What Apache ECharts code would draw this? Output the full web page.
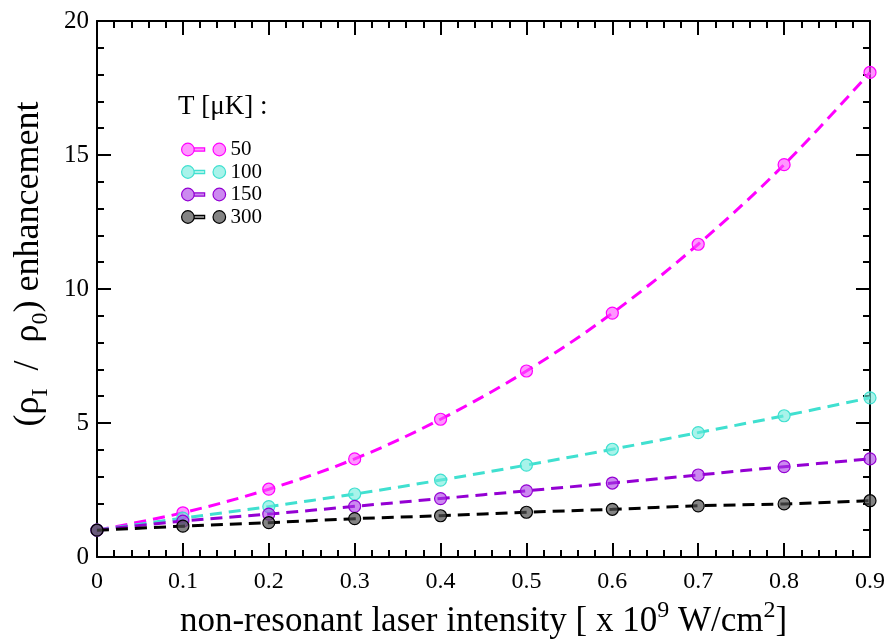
<!DOCTYPE html>
<html>
<head>
<meta charset="utf-8">
<script src="https://cdn.jsdelivr.net/npm/echarts@6/dist/echarts.min.js"></script>
<style>
  html, body { margin: 0; padding: 0; background: #fff; }
  #chart { width: 887px; height: 644px; }
</style>
</head>
<body>
<div id="chart"></div>
<script>
// Laser intensity (x 10^9 W/cm^2)
const intensity = [0, 0.1, 0.2, 0.3, 0.4, 0.5, 0.6, 0.7, 0.8, 0.9];
const intensityLabels = ['0', '0.1', '0.2', '0.3', '0.4', '0.5', '0.6', '0.7', '0.8', '0.9'];

// Density enhancement rho_I / rho_0 for each temperature
const temperatures = ['50', '100', '150', '300'];
const enh50  = [1.00, 1.65, 2.53, 3.66, 5.14, 6.94, 9.10, 11.67, 14.64, 18.08];
const enh100 = [1.00, 1.45, 1.88, 2.35, 2.87, 3.43, 4.02, 4.64, 5.27, 5.94];
const enh150 = [1.00, 1.34, 1.60, 1.89, 2.18, 2.47, 2.76, 3.06, 3.37, 3.66];
const enh300 = [1.00, 1.15, 1.28, 1.43, 1.54, 1.67, 1.78, 1.91, 1.98, 2.10];

const yTicks = [0, 5, 10, 15, 20];

const colors = ['#ff00ff', '#40e0d0', '#9400d3', '#000000'];
const fills  = ['rgba(255,80,255,0.6)', 'rgba(110,235,220,0.6)', 'rgba(170,60,230,0.6)', 'rgba(80,80,80,0.7)'];
const seriesValues = [enh50, enh100, enh150, enh300];

const serif = '"Liberation Serif", "Times New Roman", serif';

// legend glyph: marker, short solid stroke, gap, marker
const legendIcon = 'path://M1,7 A6,6 0 1,1 13,7 A6,6 0 1,1 1,7 Z M13,5.5 L23,5.5 L23,8.5 L13,8.5 Z M31,7 A6,6 0 1,1 43,7 A6,6 0 1,1 31,7 Z';

const series = temperatures.map((t, i) => ({
  name: t,
  type: 'line',
  smooth: 0.35,
  data: intensity.map((x, j) => [x, seriesValues[i][j]]),
  symbol: 'circle',
  symbolSize: 12,
  lineStyle: { color: colors[i], width: 3, type: [12, 7] },
  itemStyle: { color: fills[i], borderColor: colors[i], borderWidth: 1.2 },
  color: colors[i],
  z: 2 + i
}));

const tickCommon = {
  axisLine: { show: true, onZero: false, lineStyle: { color: '#000', width: 2 } },
  axisTick: { show: true, inside: true, length: 14, lineStyle: { color: '#000', width: 2 } },
  minorTick: { show: true, splitNumber: 5, length: 7, lineStyle: { color: '#000', width: 2 } },
  splitLine: { show: false }
};

const chart = echarts.init(document.getElementById('chart'), null, { renderer: 'canvas' });
chart.setOption({
  animation: false,
  backgroundColor: '#ffffff',
  grid: { left: 97, right: 17, top: 21, bottom: 87, containLabel: false, outerBoundsMode: 'none' },
  legend: {
    orient: 'vertical',
    left: 181,
    top: 139,
    padding: 0,
    itemWidth: 44,
    itemHeight: 14,
    itemGap: 1.5,
    icon: legendIcon,
    data: temperatures.map((t, i) => ({
      name: t,
      itemStyle: { color: fills[i], borderColor: colors[i], borderWidth: 1.2 }
    })),
    textStyle: { fontFamily: serif, fontSize: 21, color: '#000', padding: [0, 0, 0, 0] }
  },
  graphic: [{
    type: 'text',
    left: 178,
    top: 93,
    style: { text: 'T [\u03bcK] :', font: '27px ' + serif, fill: '#000' }
  }],
  xAxis: [
    Object.assign({
      type: 'value', position: 'bottom', min: 0, max: 0.9, interval: 0.1,
      axisLabel: {
        margin: 13, color: '#000', fontFamily: serif, fontSize: 24,
        formatter: (v) => intensityLabels[Math.round(v * 10)]
      },
      name: 'non-resonant laser intensity [ x 10{sup|9} W/cm{sup|2}]',
      nameLocation: 'middle',
      nameGap: 41,
      nameTextStyle: {
        color: '#000', fontFamily: serif, fontSize: 35, lineHeight: 46,
        rich: { sup: { fontFamily: serif, fontSize: 24, lineHeight: 24, color: '#000', verticalAlign: 'top' } }
      }
    }, tickCommon),
    Object.assign({
      type: 'value', position: 'top', min: 0, max: 0.9, interval: 0.1,
      axisLabel: { show: false }
    }, tickCommon)
  ],
  yAxis: [
    Object.assign({
      type: 'value', position: 'left', min: 0, max: 20, interval: 5,
      axisLabel: {
        margin: 8, color: '#000', fontFamily: serif, fontSize: 25,
        formatter: (v) => yTicks.indexOf(v) >= 0 ? String(v) : ''
      },
      name: '(\u03c1{sub|I}  /  \u03c1{sub|0}) enhancement',
      nameLocation: 'middle',
      nameGap: 42,
      nameTextStyle: {
        color: '#000', fontFamily: serif, fontSize: 36, lineHeight: 50,
        padding: [0, 0, 0, 50],
        rich: { sub: { fontFamily: serif, fontSize: 24, lineHeight: 24, color: '#000', verticalAlign: 'bottom' } }
      }
    }, tickCommon),
    Object.assign({
      type: 'value', position: 'right', min: 0, max: 20, interval: 5,
      axisLabel: { show: false }
    }, tickCommon)
  ],
  series: series
});
</script>
</body>
</html>
